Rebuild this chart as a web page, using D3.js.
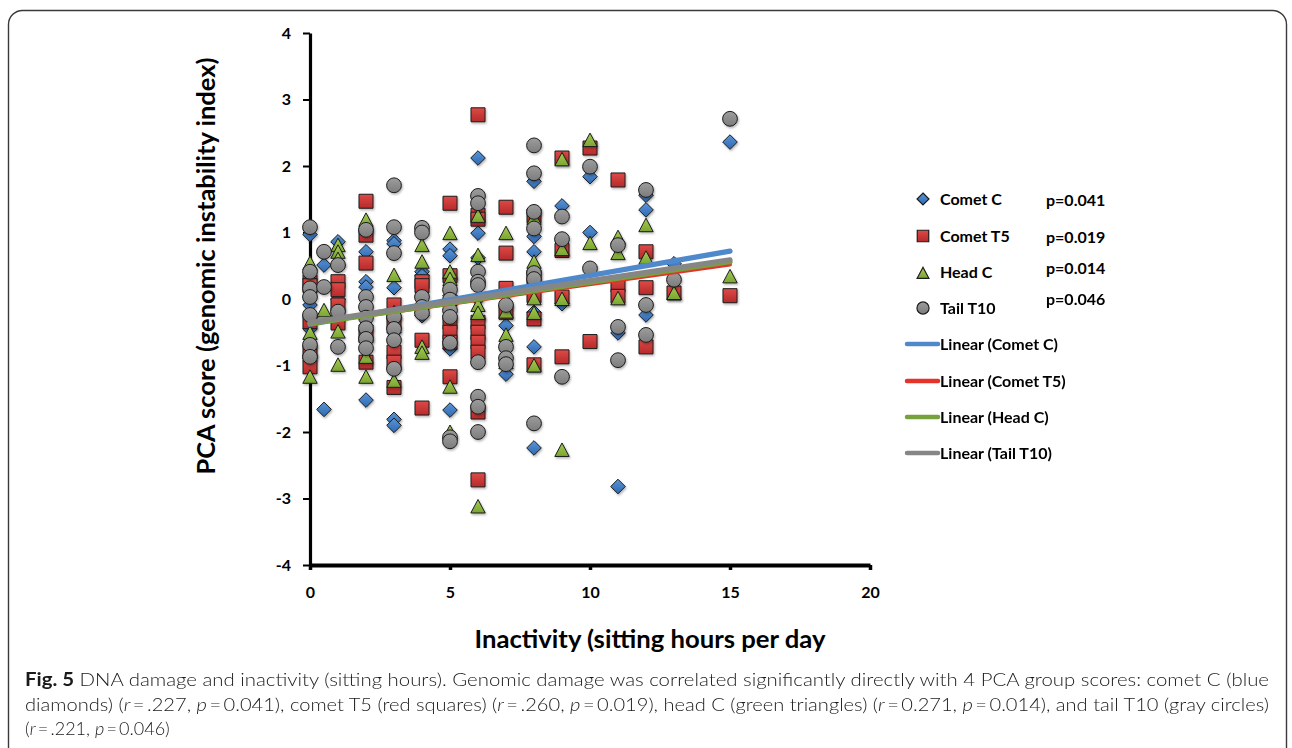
<!DOCTYPE html>
<html><head><meta charset="utf-8">
<script src="https://cdn.jsdelivr.net/npm/d3@7"></script>
<style>
html,body{margin:0;padding:0;background:#fff;}
svg{display:block;}
</style></head>
<body>
<svg id="chart" width="1292" height="748"></svg>
<script>
// ---------- data ----------
const xTicks = [0, 5, 10, 15, 20];
const yTicks = [-4, -3, -2, -1, 0, 1, 2, 3, 4];
const seriesNames = ["Comet C", "Comet T5", "Head C", "Tail T10"];
const pValues = ["p=0.041", "p=0.019", "p=0.014", "p=0.046"];
const trendNames = ["Linear (Comet C)", "Linear (Comet T5)", "Linear (Head C)", "Linear (Tail T10)"];

const cometC = [
  [0,0.97],[0,0.3],[0,-0.09],[0,-0.45],[0,-0.85],
  [0.5,0.51],[0.5,-1.66],
  [1,0.86],[1,-0.01],[1,-0.3],
  [2,0.71],[2,0.26],[2,0.18],[2,-0.4],[2,-1.52],
  [3,0.88],[3,0.83],[3,0.17],[3,-0.5],[3,-1.81],[3,-1.9],
  [4,0.41],[4,0.35],[4,-0.1],[4,-0.25],
  [5,0.75],[5,0.65],[5,0.3],[5,0.05],[5,-0.75],[5,-1.67],
  [6,2.12],[6,0.99],[6,0.62],[6,0.0],[6,-0.3],[6,-0.6],
  [7,0.1],[7,-0.4],[7,-1.13],
  [8,1.77],[8,0.94],[8,0.71],[8,-0.2],[8,-0.72],[8,-2.24],
  [9,1.4],[9,-0.07],
  [10,1.84],[10,1.0],
  [11,-0.51],[11,-2.82],
  [12,1.56],[12,1.34],[12,-0.24],
  [13,0.53],
  [15,2.36]
];
const cometT5 = [
  [0,0.26],[0,0.2],[0,-0.34],[0,-0.8],[0,-1.02],
  [1,0.26],[1,0.14],[1,-0.09],[1,-0.36],
  [2,1.47],[2,0.96],[2,0.54],[2,-0.55],[2,-0.95],
  [3,-0.09],[3,-0.35],[3,-0.8],[3,-0.95],[3,-1.33],
  [4,0.26],[4,0.2],[4,-0.62],[4,-1.64],
  [5,1.44],[5,0.35],[5,-0.35],[5,-0.5],[5,-0.65],[5,-1.17],
  [6,2.77],[6,1.26],[6,1.2],[6,-0.35],[6,-0.5],[6,-0.65],[6,-0.8],[6,-1.7],[6,-2.72],
  [7,1.38],[7,0.69],[7,0.16],[7,-0.2],
  [8,1.25],[8,0.33],[8,0.05],[8,-0.3],[8,-0.99],
  [9,2.12],[9,0.73],[9,0.03],[9,-0.87],
  [10,2.27],[10,-0.64],
  [11,1.79],[11,0.21],[11,0.04],
  [12,0.71],[12,0.17],[12,-0.72],
  [13,0.09],
  [15,0.05]
];
const headC = [
  [0,0.54],[0,-0.51],[0,-1.17],
  [0.5,-0.17],
  [1,0.81],[1,0.71],[1,0.6],[1,-0.49],[1,-0.99],
  [2,1.19],[2,-0.87],[2,-1.17],
  [3,0.36],[3,-0.2],[3,-1.23],
  [4,0.81],[4,0.56],[4,-0.72],[4,-0.81],
  [5,0.99],[5,0.41],[5,0.3],[5,0.0],[5,-1.32],[5,-2.0],
  [6,1.25],[6,0.66],[6,-0.09],[6,-0.21],[6,-3.12],
  [7,0.99],[7,-0.19],[7,-0.54],[7,-0.95],
  [8,1.22],[8,0.56],[8,0.01],[8,-0.21],[8,-1.0],
  [9,2.1],[9,0.75],[9,0.0],[9,-2.27],
  [10,2.39],[10,0.84],
  [11,0.93],[11,0.69],[11,0.01],
  [12,1.11],[12,0.62],
  [13,0.09],
  [15,0.34]
];
const tailT10 = [
  [0,1.08],[0,0.41],[0,0.16],[0,0.03],[0,-0.24],[0,-0.69],[0,-0.87],
  [0.5,0.71],[0.5,0.18],
  [1,0.51],[1,-0.19],[1,-0.72],
  [2,1.04],[2,0.03],[2,-0.12],[2,-0.28],[2,-0.44],[2,-0.6],[2,-0.74],
  [3,1.71],[3,1.08],[3,0.69],[3,-0.27],[3,-0.45],[3,-0.62],[3,-1.05],
  [4,1.07],[4,1.0],[4,0.03],[4,-0.12],[4,-0.21],
  [5,0.14],[5,-0.01],[5,-0.17],[5,-0.27],[5,-0.66],[5,-2.08],[5,-2.14],
  [6,1.55],[6,1.44],[6,0.41],[6,0.26],[6,0.21],[6,-0.95],[6,-1.47],[6,-1.62],[6,-2.0],
  [7,-0.09],[7,-0.72],[7,-0.89],[7,-0.98],
  [8,2.31],[8,1.89],[8,1.31],[8,1.06],[8,0.39],[8,0.3],[8,-1.87],
  [9,1.24],[9,0.9],[9,-1.17],
  [10,1.99],[10,0.46],
  [11,0.81],[11,-0.42],[11,-0.92],
  [12,1.64],[12,-0.09],[12,-0.54],
  [13,0.29],
  [15,2.71]
];

// linear trend lines: x range and y at both ends
const trendX = [0, 15];
const trendCometC = [-0.38, 0.72];
const trendCometT5 = [-0.37, 0.52];
const trendHeadC = [-0.37, 0.56];
const trendTailT10 = [-0.35, 0.59];

// ---------- styles ----------
const shapes = ["diamond", "square", "triangle", "circle"];
const fillTop = ["#5a95d8", "#de4a46", "#a6cc52", "#9d9d9d"];
const fillBot = ["#2e68b0", "#b52a2a", "#7aa531", "#7c7c7c"];
const lineColors = ["#5089cb", "#e3332b", "#76a23e", "#868686"];
const pointSets = [cometC, cometT5, headC, tailT10];
const trendSets = [trendCometC, trendCometT5, trendHeadC, trendTailT10];
const BOLD = "Lato, 'Open Sans', sans-serif";

const svg = d3.select("#chart");
const defs = svg.append("defs");
shapes.forEach((s, i) => {
  const g = defs.append("linearGradient").attr("id", "g" + i)
    .attr("x1", 0).attr("y1", 0).attr("x2", 0).attr("y2", 1);
  g.append("stop").attr("offset", "0%").attr("stop-color", fillTop[i]);
  g.append("stop").attr("offset", "100%").attr("stop-color", fillBot[i]);
});
const f = defs.append("filter").attr("id", "shadow")
  .attr("x", "-10%").attr("y", "-10%").attr("width", "130%").attr("height", "130%");
f.append("feDropShadow").attr("dx", 1).attr("dy", 1.5).attr("stdDeviation", 1)
  .attr("flood-color", "#000").attr("flood-opacity", 0.3);

function markerPath(type, k) {
  if (type === "diamond") { const s = 7.3 * k; return `M0,${-s}L${s},0L0,${s}L${-s},0Z`; }
  if (type === "square") { const s = 7 * k; return `M${-s},${-s}H${s}V${s}H${-s}Z`; }
  if (type === "triangle") { const w = 7.2 * k, t = 7 * k, b = 6.5 * k; return `M0,${-t}L${w},${b}L${-w},${b}Z`; }
  const r = 7.4 * k, p = d3.path(); p.arc(0, 0, r, 0, Math.PI * 2); p.closePath(); return p.toString();
}

// frame
svg.append("rect").attr("x", 8.5).attr("y", 10.5).attr("width", 1278).attr("height", 820)
  .attr("rx", 14).attr("fill", "none").attr("stroke", "#3a3a3a").attr("stroke-width", 1.4);

// ---------- scales & axes ----------
const x = d3.scaleLinear().domain([0, 20]).range([310, 870]);
const y = d3.scaleLinear().domain([-4, 4]).range([565, 33]);

const yAxisG = svg.append("g").attr("transform", `translate(${x(0)},0)`)
  .call(d3.axisLeft(y).tickValues(yTicks).tickSize(7).tickSizeOuter(0).tickPadding(12).tickFormat(d => String(d)));
yAxisG.select(".domain").attr("stroke", "#000").attr("stroke-width", 3.2);
yAxisG.selectAll(".tick line").attr("stroke", "#000").attr("stroke-width", 2);
yAxisG.selectAll(".tick text").attr("font-family", BOLD).attr("font-weight", "bold")
  .attr("font-size", 16).attr("fill", "#000");

const xAxisG = svg.append("g").attr("transform", `translate(0,${y(-4)})`)
  .call(d3.axisBottom(x).tickValues(xTicks).tickSize(5).tickSizeOuter(0).tickPadding(17).tickFormat(d => String(d)));
xAxisG.select(".domain").attr("stroke", "#000").attr("stroke-width", 4);
xAxisG.selectAll(".tick line").attr("stroke", "#000").attr("stroke-width", 3.5);
xAxisG.selectAll(".tick text").attr("font-family", BOLD).attr("font-weight", "bold")
  .attr("font-size", 16).attr("fill", "#000");

// ---------- points ----------
pointSets.forEach((pts, i) => {
  svg.append("g").attr("filter", "url(#shadow)")
    .selectAll("path").data(pts).join("path")
    .attr("transform", d => `translate(${x(d[0])},${y(d[1])})`)
    .attr("d", markerPath(shapes[i], 1))
    .attr("fill", `url(#g${i})`).attr("stroke", "#1c1c1c").attr("stroke-width", 1);
});

// ---------- trend lines ----------
const line = d3.line().x(d => x(d[0])).y(d => y(d[1]));
trendSets.forEach((t, i) => {
  svg.append("path").datum(trendX.map((xv, j) => [xv, t[j]]))
    .attr("d", line).attr("fill", "none").attr("stroke", lineColors[i])
    .attr("stroke-width", i === 1 ? 4 : 5.2).attr("stroke-linecap", "round");
});

// ---------- axis titles ----------
svg.append("text").attr("transform", "translate(215,266) rotate(-90)")
  .attr("text-anchor", "middle").attr("font-family", BOLD).attr("font-weight", "bold")
  .attr("font-size", 24).attr("textLength", 417).attr("lengthAdjust", "spacingAndGlyphs")
  .text("PCA score (genomic instability index)");
svg.append("text").attr("x", 650).attr("y", 648)
  .attr("text-anchor", "middle").attr("font-family", BOLD).attr("font-weight", "bold")
  .attr("font-size", 24).attr("textLength", 351).attr("lengthAdjust", "spacingAndGlyphs")
  .text("Inactivity (sitting hours per day");

// ---------- legend ----------
const legMarkerY = [199, 236, 273, 308];
const legLabelY = [205, 242, 278, 314];
const legPY = [206, 243, 274, 305];
const legLineY = [344, 381, 417, 453];
const leg = svg.append("g");
seriesNames.forEach((n, i) => {
  leg.append("path").attr("transform", `translate(923,${legMarkerY[i]})`)
    .attr("d", markerPath(shapes[i], 0.82)).attr("fill", `url(#g${i})`)
    .attr("stroke", "#1c1c1c").attr("stroke-width", 1.2);
  leg.append("text").attr("x", 940).attr("y", legLabelY[i]).attr("font-family", BOLD)
    .attr("font-weight", "bold").attr("font-size", 16).text(n);
  leg.append("text").attr("x", 1046).attr("y", legPY[i]).attr("font-family", BOLD)
    .attr("font-weight", "bold").attr("font-size", 16).text(pValues[i]);
});
trendNames.forEach((n, i) => {
  leg.append("line").attr("x1", 907).attr("x2", 938).attr("y1", legLineY[i]).attr("y2", legLineY[i])
    .attr("stroke", lineColors[i]).attr("stroke-width", 4.5).attr("stroke-linecap", "round");
  leg.append("text").attr("x", 940).attr("y", legLineY[i] + 6).attr("font-family", BOLD)
    .attr("font-weight", "bold").attr("font-size", 16).text(n);
});

// ---------- caption ----------
const CAP = "Lato, 'Open Sans', sans-serif";
const EQ = "\u2009=\u2009";
const capLines = [
  [["Fig. 5", "b"], [" DNA damage and inactivity (sitting hours). Genomic damage was correlated significantly directly with 4 PCA group scores: comet C (blue", ""]],
  [["diamonds) (", ""], ["r", "i"], [EQ + ".227, ", ""], ["p", "i"], [EQ + "0.041), comet T5 (red squares) (", ""], ["r", "i"], [EQ + ".260, ", ""], ["p", "i"], [EQ + "0.019), head C (green triangles) (", ""], ["r", "i"], [EQ + "0.271, ", ""], ["p", "i"], [EQ + "0.014), and tail T10 (gray circles)", ""]],
  [["(", ""], ["r", "i"], [EQ + ".221, ", ""], ["p", "i"], [EQ + "0.046)", ""]]
];
const capBase = [686, 711, 735];
const capLen = [1244, 1244, null];
capLines.forEach((parts, li) => {
  const t = svg.append("text").attr("x", 25).attr("y", capBase[li])
    .attr("font-family", CAP).attr("font-weight", 300).attr("font-size", 18).attr("fill", "#1a1a1a")
    .style("white-space", "pre");
  if (capLen[li]) t.attr("textLength", capLen[li]).attr("lengthAdjust", "spacingAndGlyphs");
  parts.forEach(([s, st]) => {
    const ts = t.append("tspan").text(s);
    if (st === "b") ts.attr("font-weight", "bold");
    if (st === "i") ts.attr("font-style", "italic");
  });
});
</script>
</body></html>
